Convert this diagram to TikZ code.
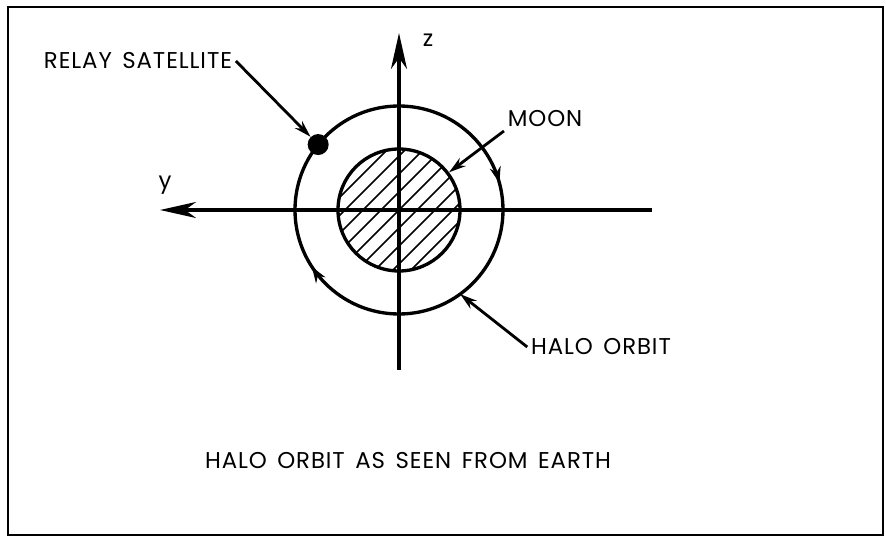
\documentclass[tikz,border=0pt]{standalone}
\usepackage{fontspec}
\setmainfont{Poppins}[LetterSpace=4, WordSpace=1.5]
\usetikzlibrary{arrows.meta, decorations.markings}

\begin{document}
\begin{tikzpicture}[
        axis/.style={line width=2pt, -{Stealth[length=0.72cm, width=0.32cm, inset=0.22cm]}},
        orbit/.style={line width=1.9pt, postaction={decorate}, decoration={markings,
            mark=at position 0.408 with {\arrow{Stealth[length=0.32cm, width=0.22cm]}},
            mark=at position 0.958 with {\arrow{Stealth[length=0.32cm, width=0.22cm]}}}},
        pointer/.style={-{Stealth[length=0.34cm, width=0.2cm]}, line width=1.6pt},
        hatch/.style={line width=0.9pt},
        lbl/.style={font=\fontsize{13}{15}\selectfont, inner sep=2pt},
        sat/.style={circle, fill, inner sep=0pt, minimum size=0.42cm}
    ]

    % page and frame
    \useasboundingbox (-7.98,-6.54) rectangle (9.74,4.2);
    \draw[line width=1.5pt] (-7.82,-6.5) rectangle (9.68,4.06);

    % moon with hatching
    \begin{scope}
        \clip (0,0) circle (1.22);
        \foreach \k in {-5,...,5}
            \draw[hatch] (\k*0.36-1.5,-1.5) -- ++(3,3);
    \end{scope}
    \node[circle, draw, line width=1.9pt, minimum size=2.44cm, inner sep=0pt] (moon) at (0,0) {};

    % axes
    \coordinate (ytip) at (-4.78,0);
    \coordinate (ztip) at (0,3.54);
    \draw[axis] (5.06,0) -- (ytip);
    \draw[axis] (0,-3.2) -- (ztip);
    \node[lbl] (ylbl) at (-4.68,0.5) {y};
    \node[lbl] (zlbl) at (0.58,3.4) {z};

    % halo orbit, run clockwise
    \draw[orbit] (0:2.08) arc[start angle=360, end angle=0, radius=2.08];
    \node[sat] (sat) at (141:2.08) {};
    \coordinate (halopt) at (-54:2.08);

    % labels
    \node[lbl] (relay) at (-5.22,2.98) {RELAY SATELLITE};
    \node[lbl] (moonlbl) at (2.92,1.82) {MOON};
    \node[lbl] (halolbl) at (4.04,-2.74) {HALO ORBIT};
    \node[lbl] (caption) at (0.18,-5.02) {HALO ORBIT AS SEEN FROM EARTH};

    \draw[pointer] (relay.east) -- (sat);
    \draw[pointer] (moonlbl.south west) -- (moon);
    \draw[pointer] (halolbl.west) -- (halopt);

\end{tikzpicture}
\end{document}
